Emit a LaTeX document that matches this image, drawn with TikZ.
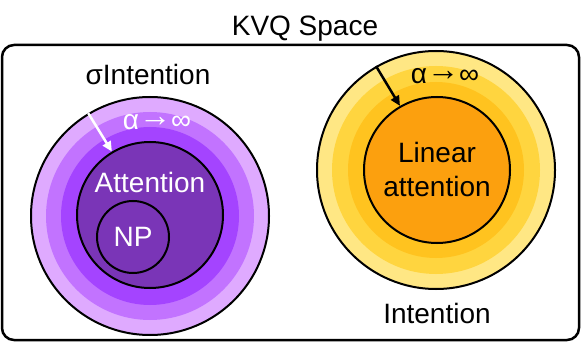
\documentclass[tikz,border=0pt]{standalone}
\usepackage{fontspec}
\setmainfont{Liberation Sans}
\usetikzlibrary{arrows.meta}
\definecolor{plA}{HTML}{DFAAFF}
\definecolor{plB}{HTML}{C273FF}
\definecolor{plC}{HTML}{A444FF}
\definecolor{plD}{HTML}{7A35B7}
\definecolor{ywA}{HTML}{FFE784}
\definecolor{ywB}{HTML}{FFD53F}
\definecolor{ywC}{HTML}{FFC31F}
\definecolor{ywD}{HTML}{FCA00E}
\newcommand{\tolim}{α\raisebox{3pt}{\scalebox{1.15}{→}}∞}

\begin{document}
\begin{tikzpicture}[
  x=1pt, y=-1pt,
  every node/.style={font=\fontsize{28}{33}\selectfont},
  disc/.style={circle, draw, line width=2pt, inner sep=0pt},
  band/.style={circle, inner sep=0pt},
  txt/.style={anchor=base, inner sep=0pt},
  shrink/.style={-{Triangle[length=10pt,width=9pt]}, line width=2.5pt}
]
  \useasboundingbox (0,0) rectangle (581,342);

  % outer frame
  \node[txt] (title) at (305,36) {KVQ Space};
  \draw[line width=2.5pt, rounded corners=12pt] (2,45) rectangle (579,340);

  % sigma intention (purple)
  \node[disc, fill=plA, minimum size=238pt] (sigma) at (150,216) {};
  \node[band, fill=plB, minimum size=208pt] (sigmaB) at (150,216) {};
  \node[band, fill=plC, minimum size=178pt] (sigmaC) at (150,216) {};
  \node[disc, fill=plD, minimum size=146pt] (attn) at (150,215) {};
  \node[disc, fill=plD, minimum size=72pt] (np) at (133,237) {};
  \node[txt] (sigmalbl) at (148,85) {σIntention};
  \node[txt, white] (attnlbl) at (150,193) {Attention};
  \node[txt, white] (nplbl) at (133,246) {NP};
  \node[txt, white] (alphaL) at (157,130) {\tolim};
  \draw[shrink, white] (sigma.121) -- (attn.121);

  % intention (yellow)
  \node[disc, fill=ywA, minimum size=238pt] (intent) at (436,170) {};
  \node[band, fill=ywB, minimum size=208pt] (intentB) at (436,170) {};
  \node[band, fill=ywC, minimum size=176pt] (intentC) at (436,170) {};
  \node[disc, fill=ywD, minimum size=146pt] (linattn) at (437,170) {};
  \node[txt] (linlbl) at (437,163) {Linear};
  \node[txt] (linlblB) at (437,196) {attention};
  \node[txt] (alphaR) at (445,84) {\tolim};
  \node[txt] (intentlbl) at (437,323) {Intention};
  \draw[shrink] (intent.120) -- (linattn.120);
\end{tikzpicture}
\end{document}
